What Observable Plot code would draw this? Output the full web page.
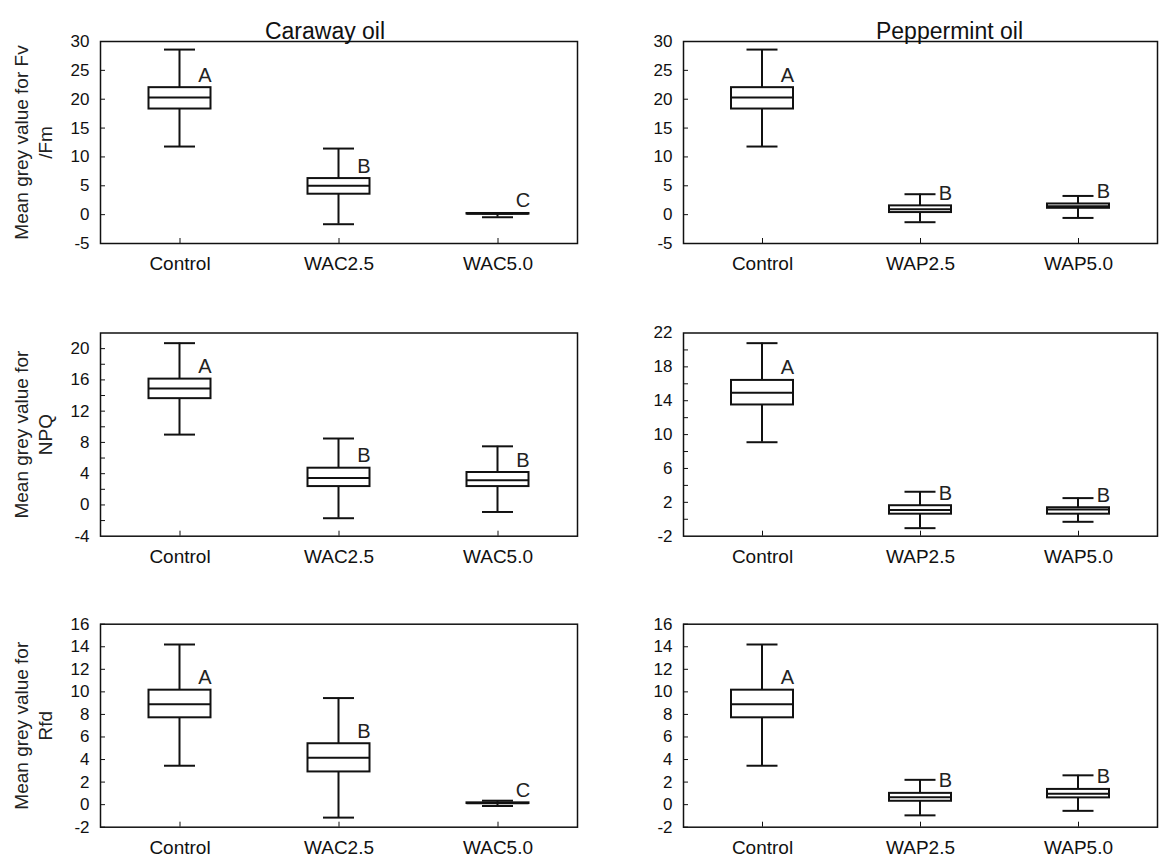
<!DOCTYPE html>
<html><head><meta charset="utf-8">
<script src="https://cdn.jsdelivr.net/npm/d3@7"></script>
<script src="https://cdn.jsdelivr.net/npm/@observablehq/plot@0.6"></script>
<style>
body{margin:0;background:#fff;}
#chart{position:relative;width:1161px;height:861px;font-family:"Liberation Sans",Arial,sans-serif;}
#chart svg{position:absolute;}
</style></head><body><div id="chart"></div>
<script>
// Categories
const carawayCategories = ["Control", "WAC2.5", "WAC5.0"];
const peppermintCategories = ["Control", "WAP2.5", "WAP5.0"];
// Each row: [whiskerLow, boxLow, mean, boxHigh, whiskerHigh]
const fvfmCaraway = [[11.8, 18.3, 20.3, 22.0, 28.6], [-1.66, 3.54, 5.0, 6.25, 11.45], [-0.45, 0.1, 0.15, 0.2, 0.2]];
const fvfmPeppermint = [[11.8, 18.3, 20.3, 22.0, 28.6], [-1.31, 0.36, 0.94, 1.52, 3.54], [-0.57, 1.1, 1.45, 1.85, 3.24]];
const npqCaraway = [[9.0, 13.6, 14.9, 16.1, 20.7], [-1.7, 2.35, 3.45, 4.7, 8.5], [-0.9, 2.35, 3.15, 4.15, 7.5]];
const npqPeppermint = [[9.1, 13.5, 14.95, 16.4, 20.8], [-1.05, 0.6, 1.1, 1.6, 3.25], [-0.3, 0.6, 1.15, 1.36, 2.5]];
const rfdCaraway = [[3.45, 7.7, 8.9, 10.15, 14.2], [-1.15, 2.9, 4.15, 5.4, 9.45], [-0.12, 0.1, 0.13, 0.16, 0.35]];
const rfdPeppermint = [[3.45, 7.7, 8.9, 10.15, 14.2], [-0.95, 0.3, 0.65, 1.0, 2.2], [-0.55, 0.6, 0.97, 1.35, 2.6]];
// Significance letters
const fvfmCarawayLetters = ["A", "B", "C"];
const fvfmPeppermintLetters = ["A", "B", "B"];
const npqCarawayLetters = ["A", "B", "B"];
const npqPeppermintLetters = ["A", "B", "B"];
const rfdCarawayLetters = ["A", "B", "C"];
const rfdPeppermintLetters = ["A", "B", "B"];
// Y domains and ticks
const fvfmDomain = [-5, 30];
const fvfmTicks = [-5, 0, 5, 10, 15, 20, 25, 30];
const npqCarawayDomain = [-4, 22];
const npqCarawayTicks = [-4, 0, 4, 8, 12, 16, 20];
const npqCarawayTickMarks = [-2, 0, 2, 4, 6, 8, 10, 12, 14, 16, 18, 20];
const npqPeppermintDomain = [-2, 22];
const npqPeppermintTicks = [-2, 2, 6, 10, 14, 18, 22];
const npqPeppermintTickMarks = [0, 2, 4, 6, 8, 10, 12, 14, 16, 18, 20];
const rfdDomain = [-2, 16];
const rfdTicks = [-2, 0, 2, 4, 6, 8, 10, 12, 14, 16];
// Text
const columnTitles = ["Caraway oil", "Peppermint oil"];
const yLabels = ["Mean grey value for Fv\n/Fm", "Mean grey value for\nNPQ", "Mean grey value for\nRfd"];

const chart = document.getElementById("chart");
const INK = "#111";

function panel(o) {
  const rows = o.cats.map((c, i) => ({
    cat: c, wl: o.stats[i][0], bl: o.stats[i][1], mean: o.stats[i][2],
    bh: o.stats[i][3], wh: o.stats[i][4], letter: o.letters[i]
  }));
  const bw = (o.width - o.ml - o.mr) / o.cats.length;
  const boxInset = (bw - 62) / 2;
  const capInset = (bw - 31) / 2;
  const wInset = (bw - 2) / 2;
  const marks = [
    Plot.barY(rows, {x: "cat", y1: "wl", y2: "wh", fill: INK, insetLeft: wInset, insetRight: wInset}),
    Plot.tickY(rows, {x: "cat", y: "wl", stroke: INK, strokeWidth: 2, insetLeft: capInset, insetRight: capInset}),
    Plot.tickY(rows, {x: "cat", y: "wh", stroke: INK, strokeWidth: 2, insetLeft: capInset, insetRight: capInset}),
    Plot.barY(rows, {x: "cat", y1: "bl", y2: "bh", fill: "white", stroke: INK, strokeWidth: 2, insetLeft: boxInset, insetRight: boxInset}),
    Plot.tickY(rows, {x: "cat", y: "mean", stroke: INK, strokeWidth: 2, insetLeft: boxInset, insetRight: boxInset}),
    Plot.text(rows, {x: "cat", y: "bh", text: "letter", dx: 25, dy: -6, lineAnchor: "bottom", fontSize: 20, fill: "#222"}),
    Plot.axisY({ticks: o.tickMarks, tickSize: 5, dx: 5, tickFormat: () => "", label: null, stroke: INK}),
    Plot.axisY({ticks: o.ticks, tickSize: 0, tickPadding: 11, fontSize: 17, label: null, fill: INK, tickFormat: d => String(d)}),
    Plot.axisX({tickSize: 5, dy: -5, tickFormat: () => "", label: null, stroke: INK}),
    Plot.axisX({tickSize: 0, tickPadding: 13, fontSize: 19, label: null, fill: INK}),
    Plot.frame({stroke: INK, strokeWidth: 1.5})
  ];
  if (o.title) marks.push(Plot.text([o.title], {text: d => d, frameAnchor: "top", dy: -19, dx: o.titleDx, fontSize: 23, fill: INK}));
  if (o.ylabel) marks.push(Plot.text([o.ylabel], {text: d => d, frameAnchor: "left", textAnchor: "middle", rotate: -90, dx: -68, fontSize: 19, lineHeight: 1.24, fill: "#222"}));
  const svg = Plot.plot({
    width: o.width, height: o.height,
    marginLeft: o.ml, marginRight: o.mr, marginTop: o.mt, marginBottom: o.mb,
    style: {fontFamily: '"Liberation Sans", Arial, sans-serif', overflow: "visible", background: "white"},
    x: {type: "band", domain: o.cats, padding: 0, label: null},
    y: {domain: o.domain, label: null},
    marks
  });
  svg.style.left = o.left + "px";
  svg.style.top = o.top + "px";
  chart.appendChild(svg);
}

const rowsLayout = [
  {top: 0, height: 290, mt: 41, mb: 47},
  {top: 290, height: 290, mt: 42.5, mb: 44.3},
  {top: 580, height: 281, mt: 43.7, mb: 34.3}
];
const colsLayout = [
  {left: 0, width: 580, ml: 100, mr: 3, titleDx: -14},
  {left: 580, width: 581, ml: 103, mr: 4, titleDx: 29}
];

const panels = [
  {r: 0, c: 0, cats: carawayCategories, stats: fvfmCaraway, letters: fvfmCarawayLetters, domain: fvfmDomain, ticks: fvfmTicks, tickMarks: fvfmTicks, title: columnTitles[0], ylabel: yLabels[0]},
  {r: 0, c: 1, cats: peppermintCategories, stats: fvfmPeppermint, letters: fvfmPeppermintLetters, domain: fvfmDomain, ticks: fvfmTicks, tickMarks: fvfmTicks, title: columnTitles[1]},
  {r: 1, c: 0, cats: carawayCategories, stats: npqCaraway, letters: npqCarawayLetters, domain: npqCarawayDomain, ticks: npqCarawayTicks, tickMarks: npqCarawayTickMarks, ylabel: yLabels[1]},
  {r: 1, c: 1, cats: peppermintCategories, stats: npqPeppermint, letters: npqPeppermintLetters, domain: npqPeppermintDomain, ticks: npqPeppermintTicks, tickMarks: npqPeppermintTickMarks},
  {r: 2, c: 0, cats: carawayCategories, stats: rfdCaraway, letters: rfdCarawayLetters, domain: rfdDomain, ticks: rfdTicks, tickMarks: rfdTicks, ylabel: yLabels[2]},
  {r: 2, c: 1, cats: peppermintCategories, stats: rfdPeppermint, letters: rfdPeppermintLetters, domain: rfdDomain, ticks: rfdTicks, tickMarks: rfdTicks}
];

for (const p of panels) {
  const R = rowsLayout[p.r], C = colsLayout[p.c];
  panel({...p, ...R, left: C.left, width: C.width, ml: C.ml, mr: C.mr, titleDx: C.titleDx});
}
</script></body></html>
